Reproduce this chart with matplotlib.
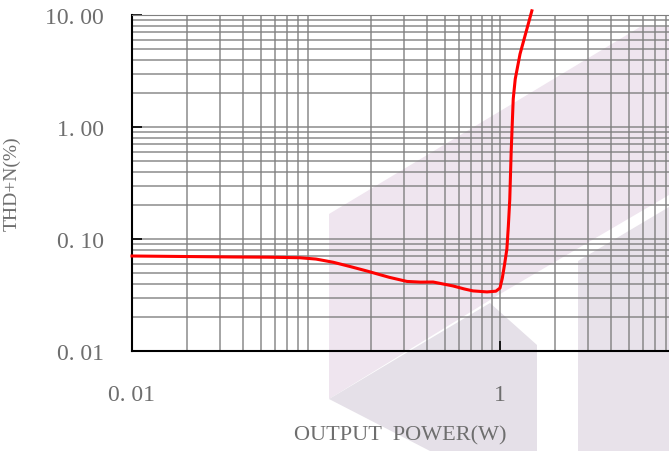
import numpy as np
import matplotlib.pyplot as plt
from matplotlib.patches import Polygon

# THD+N vs output power
power = [0.01, 0.0354, 0.055, 0.0818, 0.1, 0.124, 0.155, 0.189, 0.25, 0.312, 0.37,
         0.433, 0.555, 0.64, 0.713, 0.85, 0.95, 1.0, 1.03, 1.06, 1.09, 1.11, 1.13,
         1.15, 1.18, 1.21, 1.285, 1.40, 1.49]
thd = [0.0705, 0.0691, 0.0688, 0.068, 0.0662, 0.062, 0.0565, 0.0518, 0.0455, 0.0418, 0.0412,
       0.0413, 0.0381, 0.0358, 0.0344, 0.0337, 0.0342, 0.0365, 0.045, 0.06, 0.0814, 0.13, 0.226,
       0.6, 1.78, 2.68, 4.49, 7.5, 10.9]

ytick_vals = [0.01, 0.1, 1, 10]
ytick_text = ['0. 01', '0. 10', '1. 00', '10. 00']
xtick_vals = [0.01, 1]
xtick_text = ['0. 01', '1']

W, H = 669, 452
fig = plt.figure(figsize=(W / 100, H / 100), dpi=100)
fig.patch.set_facecolor('white')

# background watermark shapes on a full-figure axes (pixel coords from top-left)
bg = fig.add_axes([0, 0, 1, 1], zorder=-1)
bg.set_xlim(0, W)
bg.set_ylim(H, 0)
bg.axis('off')
bg.add_patch(Polygon([(329, 215), (640, 28), (669, 28), (669, 196), (495, 298), (329, 400)],
                     closed=True, fc='#efe5ef', ec='none'))
bg.add_patch(Polygon([(329, 400), (490, 304), (537, 346), (537, 452), (430, 452)],
                     closed=True, fc='#e5e0e8', ec='none'))
bg.add_patch(Polygon([(578, 262), (669, 208), (669, 452), (578, 452)],
                     closed=True, fc='#e8e2ea', ec='none'))

ax = fig.add_axes([132 / W, 1 - 352 / H, 1 - 132 / W, (352 - 16) / H])
ax.set_facecolor('none')
ax.set_xscale('log')
ax.set_yscale('log')
ax.set_xlim(0.01, 10 ** (-2 + (669 - 132) / 184))
ax.set_ylim(0.01, 10)

ax.grid(True, which='both', color='#7f7f7f', lw=1.1, alpha=0.9)
ax.set_axisbelow(True)

ax.plot(power, thd, color='#ff0000', lw=2.2, clip_on=False, zorder=5,
        solid_joinstyle='round')

ax.set_yticks(ytick_vals)
ax.set_yticklabels(ytick_text)
ax.set_xticks(xtick_vals)
ax.set_xticklabels(xtick_text)
ax.tick_params(which='major', direction='in', length=7, width=1.2, color='black',
               labelcolor='#6e6e6e', labelsize=17)
ax.tick_params(axis='y', pad=20)
ax.tick_params(axis='x', pad=24)
ax.tick_params(which='minor', length=0)
for lab in ax.get_xticklabels() + ax.get_yticklabels():
    lab.set_family('Liberation Serif')

for s in ['left', 'bottom']:
    ax.spines[s].set_color('black')
    ax.spines[s].set_linewidth(1.5)
ax.spines['top'].set_color('#7f7f7f')
ax.spines['right'].set_visible(False)

ax.set_xlabel('OUTPUT  POWER(W)', family='Liberation Serif', fontsize=16,
              color='#6e6e6e', labelpad=14)
ax.set_ylabel('THD+N(%)', family='Liberation Serif', fontsize=14,
              color='#6e6e6e', labelpad=18)

plt.savefig('out.png', dpi=100)
